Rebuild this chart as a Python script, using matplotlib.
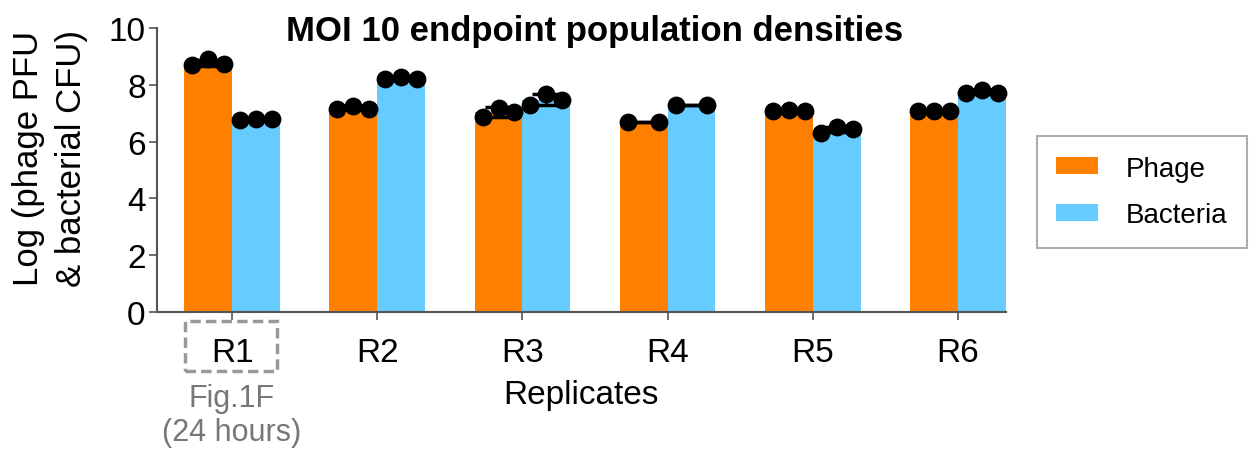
import matplotlib
matplotlib.use("Agg")
import matplotlib.pyplot as plt
import numpy as np
from matplotlib.patches import Rectangle

plt.rcParams["font.family"] = ["Liberation Sans", "DejaVu Sans"]

replicates = ["R1", "R2", "R3", "R4", "R5", "R6"]
phage = [
    [8.69, 8.90, 8.73],
    [7.16, 7.26, 7.16],
    [6.87, 7.20, 7.05],
    [6.69, 6.69],
    [7.07, 7.10, 7.07],
    [7.07, 7.07, 7.07],
]
bacteria = [
    [6.78, 6.80, 6.80],
    [8.22, 8.27, 8.22],
    [7.30, 7.68, 7.46],
    [7.30, 7.30],
    [6.31, 6.51, 6.46],
    [7.72, 7.83, 7.72],
]

ORANGE = "#FF8000"
BLUE = "#66CCFF"
W = 0.33

fig = plt.figure(figsize=(12.54, 4.64), dpi=100)
ax = fig.add_axes([0.125, 0.326, 0.677, 0.611])

x = np.arange(len(replicates))
for series, off, color, label in [(phage, -W / 2, ORANGE, "Phage"),
                                  (bacteria, W / 2, BLUE, "Bacteria")]:
    means = [np.mean(v) for v in series]
    sds = [np.std(v, ddof=1) for v in series]
    ax.bar(x + off, means, width=W, color=color, label=label, zorder=1)
    ax.errorbar(x + off, means, yerr=sds, fmt="none", ecolor="black",
                elinewidth=2, capsize=10, capthick=2.5, zorder=2)
    for i, vals in enumerate(series):
        if len(vals) == 3:
            offs = [-0.11, 0.0, 0.11]
        else:
            offs = [-0.107, 0.107]
        ax.scatter([x[i] + off + o for o in offs], vals, s=140, color="black",
                   zorder=3, clip_on=False)

ax.set_xlim(-0.52, 5.33)
ax.set_ylim(0, 10)
ax.set_yticks([0, 2, 4, 6, 8, 10])
ax.set_xticks(x)
ax.set_xticklabels(replicates, fontsize=24)
ax.tick_params(axis="y", labelsize=24, length=6, width=1.2, color="#555555", pad=2)
ax.tick_params(axis="x", length=6, width=1.2, color="#555555", pad=12)
for s in ["top", "right"]:
    ax.spines[s].set_visible(False)
for s in ["left", "bottom"]:
    ax.spines[s].set_color("#555555")
    ax.spines[s].set_linewidth(1.5)

ax.set_ylabel("Log (phage PFU\n& bacterial CFU)", fontsize=25, linespacing=1.4)
ax.yaxis.set_label_coords(-0.081, 0.543)
ax.set_xlabel("Replicates", fontsize=24, labelpad=8)
fig.text(595 / 1254, 1 - 31 / 464, "MOI 10 endpoint population densities",
         ha="center", va="center", fontsize=25, fontweight="bold")

# dashed box around R1 and annotation
fig.patches.append(Rectangle((185 / 1254, 1 - 372 / 464), 92 / 1254, 50 / 464,
                             transform=fig.transFigure, fill=False,
                             edgecolor="#999999", linestyle=(0, (3, 1.5)),
                             linewidth=2.5))
fig.text(232 / 1254, 1 - 416 / 464, "Fig.1F\n(24 hours)", ha="center",
         va="center", fontsize=22, color="#777777", linespacing=1.15)

leg = fig.legend(loc="center", bbox_to_anchor=(1142 / 1254, 1 - 193 / 464),
                 fontsize=20, frameon=True, fancybox=False, edgecolor="#999999",
                 handlelength=1.5, handleheight=0.55, borderpad=0.7,
                 labelspacing=0.75, handletextpad=1.0)
leg.get_frame().set_linewidth(1.5)

fig.savefig("out.png", dpi=100)
